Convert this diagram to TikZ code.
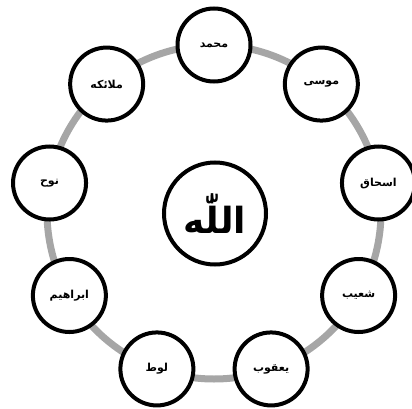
\documentclass[tikz,border=0pt]{standalone}
\usepackage{fontspec}
\newfontfamily\arabicfont[Script=Arabic]{DejaVu Sans}
\TeXXeTstate=1
\definecolor{ringgray}{HTML}{A6A6A6}
\tikzset{
  member/.style={circle, draw=black, line width=4pt, fill=white,
    minimum size=73pt, inner sep=0pt,
    font=\arabicfont\bfseries\fontsize{11}{12}\selectfont},
  core/.style={circle, draw=black, line width=4pt, fill=white,
    minimum size=102pt, inner sep=0pt,
    font=\arabicfont\bfseries\fontsize{36}{44}\selectfont},
  ring/.style={draw=ringgray, line width=7pt}
}
\begin{document}
\begin{tikzpicture}[x=1pt,y=1pt]
\useasboundingbox (0,0) rectangle (412,408);
\coordinate (c) at (214,196);
\draw[ring] (c) circle (167pt);
\node[core] (allah) at (215,194.5) {\beginR اللّٰه\endR};
\node[member] (m1) at ([shift={(90:167pt)}]c) {\beginR محمد\endR};
\node[member] (m2) at ([shift={(50:167pt)}]c) {\beginR موسی\endR};
\node[member] (m3) at ([shift={(10:167pt)}]c) {\beginR اسحاق\endR};
\node[member] (m4) at ([shift={(-30:167pt)}]c) {\beginR شعیب\endR};
\node[member] (m5) at ([shift={(-70:167pt)}]c) {\beginR یعقوب\endR};
\node[member] (m6) at ([shift={(-110:167pt)}]c) {\beginR لوط\endR};
\node[member] (m7) at ([shift={(-150:167pt)}]c) {\beginR ابراهیم\endR};
\node[member] (m8) at ([shift={(170:167pt)}]c) {\beginR نوح\endR};
\node[member] (m9) at ([shift={(130:167pt)}]c) {\beginR ملائکه\endR};
\end{tikzpicture}
\end{document}
